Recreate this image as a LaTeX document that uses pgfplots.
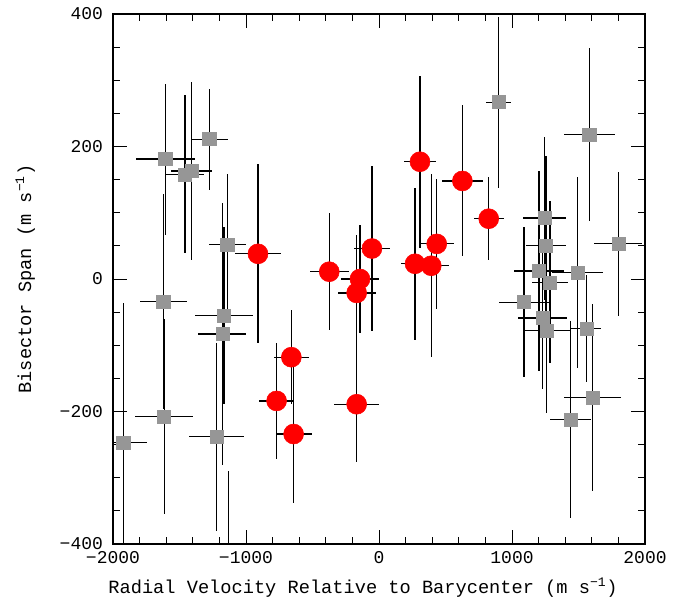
\documentclass[border=0pt]{standalone}
\usepackage{fontspec}
\setmainfont{Liberation Mono}
\usepackage{pgfplots}
\usepackage{pgfplotstable}
\pgfplotsset{compat=1.18}
\definecolor{sqgray}{RGB}{150,150,150}
\definecolor{cred}{RGB}{255,0,0}

\pgfplotstableread{
x y ex ey
-910 38 170 135
-374 11 145 88
-143 0 143 82
-168 -21 143 88
-168 -189 170 87
-659 -118 130 71
-770 -184 130 88
-642 -234 135 104
-53 46 135 125
308 177 117 130
627 148 153 114
825 91 113 63
434 53 128 98
271 23 103 115
393 20 134 138
}\reddata

\pgfplotstableread{
x y ex ey
-1607 181 220 114
-1459 158 143 119
-1409 163 155 135
-1276 211 139 76
-1141 52 140 107
-1165 -55 216 134
-1178 -83 180 198
-1622 -34 178 162
-1615 -208 219 147
-1923 -247 180 211
-1223 -238 206 142
-1130 -470 100 180
897 267 93 129
1581 218 192 130
1246 92 160 123
1256 50 153 135
1800 53 180 109
1203 12 185 151
1491 10 190 144
1286 -5 135 122
1090 -35 188 113
1228 -59 182 107
1261 -78 174 124
1559 -75 113 81
1604 -179 214 141
1439 -212 152 149
}\graydata

\begin{document}
\begin{tikzpicture}
\useasboundingbox (-84.75pt,-48pt) rectangle (434.25pt,408pt);
\begin{axis}[
  scale only axis,
  width=399pt, height=397.5pt,
  xmin=-2000, xmax=2000, ymin=-400, ymax=400,
  xtick={-2000,-1000,0,1000,2000},
  xticklabels={−2000,−1000,0,1000,2000},
  ytick={-400,-200,0,200,400},
  yticklabels={−400,−200,0,200,400},
  minor x tick num=4,
  minor y tick num=3,
  tick align=inside,
  xtick pos=both, ytick pos=both,
  major tick length=10.5pt,
  minor tick length=5.5pt,
  every tick/.style={black, line width=0.75pt},
  axis line style={line width=1.5pt},
  tick label style={font=\fontsize{13.5}{16}\selectfont},
  xticklabel style={yshift=-2pt},
  yticklabel style={xshift=-4pt},
  xlabel={Radial Velocity Relative to Barycenter (m s\textsuperscript{−1})},
  ylabel={Bisector Span (m s\textsuperscript{−1})},
  every axis x label/.style={at={(axis description cs:0.47,-0.083)}, anchor=center, font=\fontsize{14}{17}\selectfont},
  every axis y label/.style={at={(axis description cs:-0.165,0.5)}, rotate=90, anchor=center, font=\fontsize{14}{17}\selectfont},
  clip=true,
]
\addplot[draw=none, mark=none, forget plot,
  error bars/.cd, x dir=both, x explicit, y dir=both, y explicit,
  error mark=none, error bar style={black, line width=0.9pt}]
  table[x=x, y=y, x error=ex, y error=ey] {\graydata};
\addplot[draw=none, mark=none, forget plot,
  error bars/.cd, x dir=both, x explicit, y dir=both, y explicit,
  error mark=none, error bar style={black, line width=0.9pt}]
  table[x=x, y=y, x error=ex, y error=ey] {\reddata};
\addplot[only marks, mark=square*, mark size=4.9pt, color=sqgray, fill=sqgray]
  table[x=x, y=y] {\graydata};
\addplot[only marks, mark=*, mark size=7.5pt, color=cred, fill=cred]
  table[x=x, y=y] {\reddata};
\end{axis}
\end{tikzpicture}
\end{document}
